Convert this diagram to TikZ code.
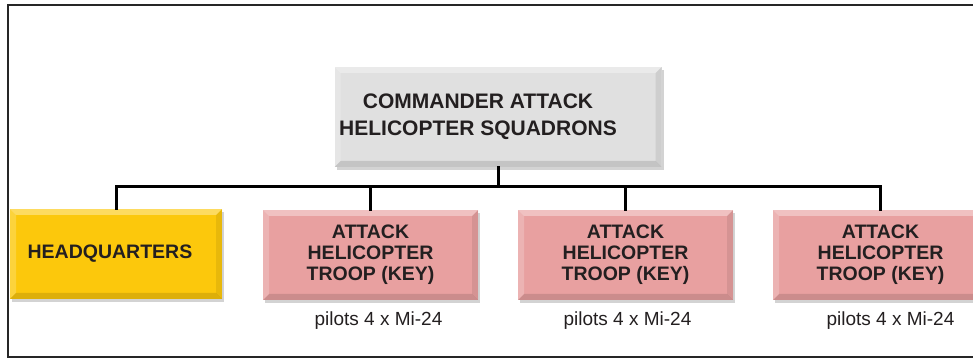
\documentclass[tikz,border=0pt]{standalone}
\usepackage{fontspec}
\setmainfont{Liberation Sans}
\usepackage{xcolor}
\usepackage{tikz}
\usetikzlibrary{positioning,shadows}

\definecolor{cmdgray}{RGB}{224,224,224}
\definecolor{hqyellow}{RGB}{252,200,12}
\definecolor{trooppink}{RGB}{232,160,160}
\definecolor{inkgray}{RGB}{35,31,32}

\tikzset{
  bevel/.style={path picture={
    \fill[white,opacity=0.35] (path picture bounding box.north west) -- (path picture bounding box.north east)
      -- ([xshift=-6pt,yshift=-6pt]path picture bounding box.north east) -- ([xshift=6pt,yshift=-6pt]path picture bounding box.north west) -- cycle;
    \fill[white,opacity=0.2] (path picture bounding box.north west) -- ([xshift=6pt,yshift=-6pt]path picture bounding box.north west)
      -- ([xshift=6pt,yshift=6pt]path picture bounding box.south west) -- (path picture bounding box.south west) -- cycle;
    \fill[black,opacity=0.12] (path picture bounding box.south west) -- (path picture bounding box.south east)
      -- ([xshift=-6pt,yshift=6pt]path picture bounding box.south east) -- ([xshift=6pt,yshift=6pt]path picture bounding box.south west) -- cycle;
    \fill[black,opacity=0.08] (path picture bounding box.north east) -- ([xshift=-6pt,yshift=-6pt]path picture bounding box.north east)
      -- ([xshift=-6pt,yshift=6pt]path picture bounding box.south east) -- (path picture bounding box.south east) -- cycle;
  }},
  unitbox/.style={rectangle, bevel, align=center, text=inkgray,
    drop shadow={shadow xshift=2pt, shadow yshift=-3pt, opacity=0.35},
    font=\bfseries\fontsize{19.5}{21}\selectfont},
  troopbox/.style={unitbox, fill=trooppink, minimum width=215pt, minimum height=90pt},
  pilotnote/.style={text=inkgray, font=\fontsize{19}{21}\selectfont},
  bus/.style={line width=3pt, line cap=rect}
}

\begin{document}
\begin{tikzpicture}[x=1pt,y=1pt]
    \useasboundingbox (0,0) rectangle (973,361);
    % outer frame, open on the right
    \draw[line width=1.5pt, black!85] (973,356) -- (8,356) -- (8,4) -- (973,4);

    \node[unitbox, fill=cmdgray, minimum width=327pt, minimum height=100pt,
          font=\bfseries\fontsize{21}{27}\selectfont] (cmd) at (498,244)
          {COMMANDER ATTACK\hspace*{40pt}\\HELICOPTER SQUADRONS\hspace*{40pt}};

    \node[unitbox, fill=hqyellow, minimum width=212pt, minimum height=90pt] (hq) at (116,107)
          {HEADQUARTERS\hspace*{12pt}};
    \node[troopbox] (t1) at (370.5,106) {ATTACK\\HELICOPTER\\TROOP (KEY)};
    \node[troopbox] (t2) at (625.5,106) {ATTACK\\HELICOPTER\\TROOP (KEY)};
    \node[troopbox] (t3) at (880.5,106) {ATTACK\\HELICOPTER\\TROOP (KEY)};

    \node[pilotnote, below=8pt of t1, xshift=8pt] (p1) {pilots 4 x Mi-24};
    \node[pilotnote, below=8pt of t2, xshift=2pt] (p2) {pilots 4 x Mi-24};
    \node[pilotnote, below=8pt of t3, xshift=10pt] (p3) {pilots 4 x Mi-24};

    % connectors
    \coordinate (busline) at (0,174);
    \draw[bus] (cmd.south) -- (cmd.south |- busline);
    \draw[bus] (hq.north) -- (hq.north |- busline) -- (t3.north |- busline) -- (t3.north);
    \draw[bus] (t1.north |- busline) -- (t1.north);
    \draw[bus] (t2.north |- busline) -- (t2.north);
\end{tikzpicture}
\end{document}
